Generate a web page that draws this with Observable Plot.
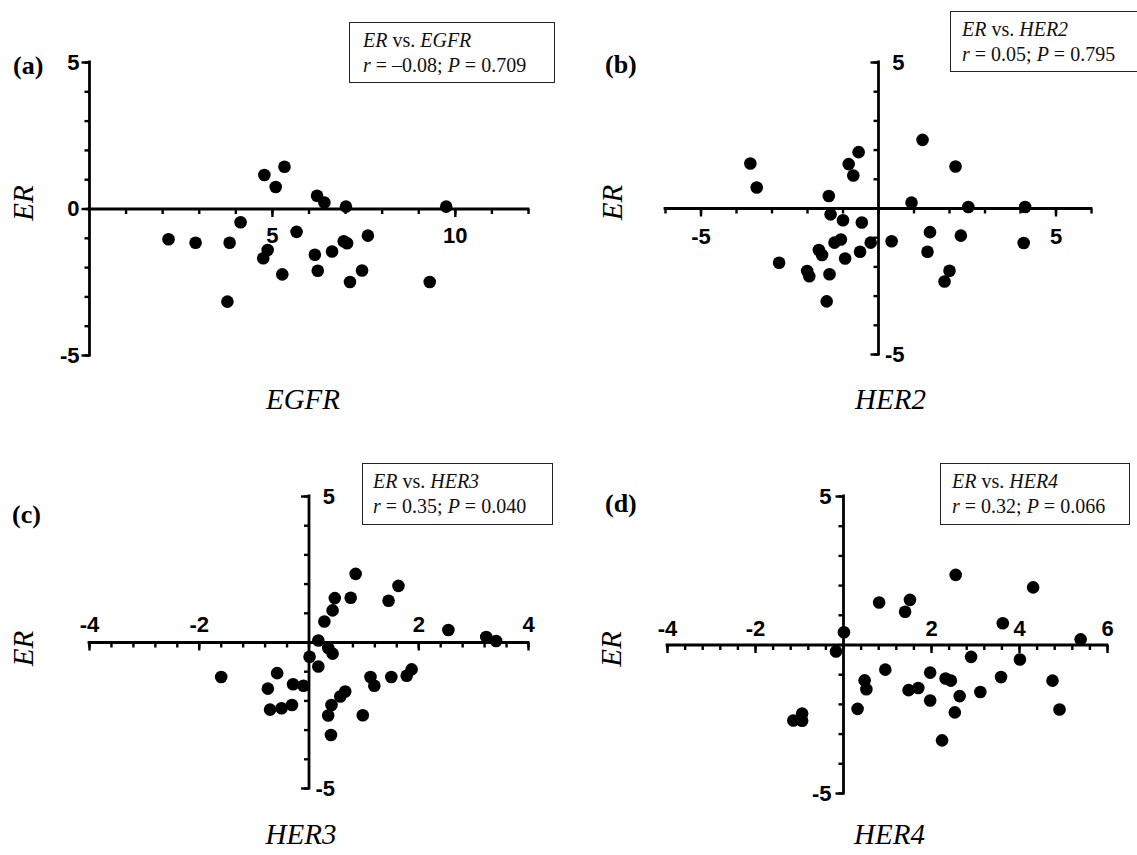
<!DOCTYPE html>
<html>
<head>
<meta charset="utf-8">
<script src="https://cdn.jsdelivr.net/npm/d3@7"></script>
<script src="https://cdn.jsdelivr.net/npm/@observablehq/plot@0.6"></script>
<style>
  html, body { margin: 0; padding: 0; background: #fff; }
  #root { position: relative; width: 1137px; height: 855px; overflow: hidden; background: #fff; }
  #root svg { position: absolute; overflow: visible; }
  .letter { position: absolute; font-family: "Liberation Serif", "Times New Roman", serif; font-weight: bold; font-size: 26px; line-height: 26px; color: #000; white-space: nowrap; }
  .stat { position: absolute; box-sizing: border-box; border: 1px solid #222; background: #fff; font-family: "Liberation Serif", "Times New Roman", serif; font-size: 20px; line-height: 25px; color: #111; white-space: nowrap; padding-top: 4.7px; }
</style>
</head>
<body>
<div id="root"></div>
<script>
// ---------------- data ----------------
const egfrX = [2.16, 2.90, 3.83, 4.13, 3.77, 4.78, 5.33, 5.09, 4.87, 4.75, 5.27, 5.66, 6.22, 6.42, 7.01, 6.16, 6.24, 6.63, 6.95, 7.04, 7.61, 7.12, 7.45, 9.75, 9.30];
const egfrER = [-1.03, -1.15, -1.15, -0.45, -3.16, 1.16, 1.44, 0.75, -1.40, -1.68, -2.23, -0.78, 0.45, 0.22, 0.08, -1.56, -2.11, -1.45, -1.10, -1.17, -0.91, -2.49, -2.10, 0.08, -2.49];

const her2X = [-3.61, -3.43, -2.80, -2.01, -1.95, -1.68, -1.59, -1.40, -1.35, -1.38, -1.46, -1.24, -1.06, -1.00, -0.94, -0.84, -0.71, -0.56, -0.47, -0.52, -0.22, 0.37, 0.93, 1.24, 1.45, 1.38, 2.17, 2.32, 2.53, 2.00, 1.86, 4.13, 4.09];
const her2ER = [1.54, 0.72, -1.86, -2.14, -2.32, -1.42, -1.59, 0.43, -0.20, -2.25, -3.18, -1.17, -1.06, -0.40, -1.71, 1.52, 1.13, 1.93, -0.48, -1.48, -1.17, -1.12, 0.20, 2.35, -0.81, -1.48, 1.44, -0.93, 0.05, -2.13, -2.50, 0.05, -1.18];

const her3X = [-1.60, -0.75, -0.58, -0.71, -0.50, -0.31, -0.29, -0.10, 0.01, 0.17, 0.17, 0.28, 0.35, 0.43, 0.43, 0.47, 0.76, 0.85, 0.41, 0.35, 0.40, 0.57, 0.66, 0.98, 1.12, 1.19, 1.50, 1.45, 1.63, 1.78, 1.87, 2.54, 3.23, 3.41];
const her3ER = [-1.18, -1.58, -1.05, -2.30, -2.25, -2.14, -1.43, -1.48, -0.49, 0.07, -0.82, 0.72, -0.19, -0.38, 1.10, 1.52, 1.53, 2.35, -2.14, -2.50, -3.17, -1.85, -1.68, -2.49, -1.18, -1.48, -1.18, 1.43, 1.94, -1.14, -0.92, 0.43, 0.19, 0.05];

const her4X = [-1.14, -0.94, -0.94, -0.17, 0.01, 0.32, 0.48, 0.52, 0.81, 0.95, 1.40, 1.51, 1.48, 1.70, 1.97, 1.97, 2.32, 2.44, 2.24, 2.53, 2.55, 2.64, 2.90, 3.11, 3.58, 3.62, 4.01, 4.31, 4.75, 4.91, 5.39];
const her4ER = [-2.54, -2.31, -2.55, -0.22, 0.43, -2.15, -1.19, -1.49, 1.43, -0.83, 1.12, 1.52, -1.52, -1.45, -0.93, -1.87, -1.13, -1.20, -3.21, -2.27, 2.36, -1.72, -0.40, -1.58, -1.08, 0.73, -0.49, 1.94, -1.20, -2.17, 0.19];

// axis labels
const aXLabels = [5, 10];
const aYLabels = [-5, 0, 5];
const bXLabels = [-5, 5];
const bYLabels = [-5, 5];
const cXLabels = [-4, -2, 2, 4];
const cYLabels = [-5, 5];
const dXLabels = [-4, -2, 2, 4, 6];
const dYLabels = [-5, 5];

const panelLetters = ["(a)", "(b)", "(c)", "(d)"];
const xTitles = ["EGFR", "HER2", "HER3", "HER4"];
const yTitle = "ER";
const statR = ["\u20130.08", "0.05", "0.35", "0.32"];
const statP = ["0.709", "0.795", "0.040", "0.066"];

// ---------------- tick symbols ----------------
const tickDown = { draw(ctx, size) { const r = Math.sqrt(size / Math.PI); ctx.moveTo(0, 0); ctx.lineTo(0, r); } };
const tickLeft = { draw(ctx, size) { const r = Math.sqrt(size / Math.PI); ctx.moveTo(0, 0); ctx.lineTo(-r, 0); } };

const SANS = "Liberation Sans, Arial, Helvetica, sans-serif";
const SERIF = "Liberation Serif, Times New Roman, serif";

function makePanel(cfg) {
  const pts = cfg.xs.map((x, i) => ({ x, y: cfg.ys[i] }));
  const axisStyle = { stroke: "#000", strokeWidth: 2.8, strokeLinecap: "square" };
  const tickStyle = { stroke: "#000", strokeWidth: 2.4, fill: "none" };
  const labStyle = { fontFamily: SANS, fontWeight: 700, fontSize: 22, fill: "#000" };
  const marks = [
    Plot.ruleY([0], axisStyle),
    Plot.ruleX([0], axisStyle),
    Plot.dot(cfg.xMinor, { x: d => d, y: 0, symbol: tickDown, r: 5, ...tickStyle }),
    Plot.dot(cfg.xLabels, { x: d => d, y: 0, symbol: tickDown, r: 8, ...tickStyle }),
    Plot.dot(cfg.yMinor, { x: 0, y: d => d, symbol: tickLeft, r: 5, ...tickStyle }),
    Plot.dot(cfg.yLabels, { x: 0, y: d => d, symbol: tickLeft, r: 8, ...tickStyle }),
    Plot.text(cfg.xLabels, { x: d => d, y: 0, text: d => String(d), dy: cfg.xLabDy, lineAnchor: "middle", textAnchor: "middle", ...labStyle }),
    Plot.text(cfg.yLabels, { x: 0, y: d => d, text: d => String(d), dx: cfg.yLabDx, lineAnchor: "middle", textAnchor: "end", ...labStyle }),
    Plot.text([cfg.xTitle], { frameAnchor: "bottom", dx: cfg.xTitleDx, dy: cfg.xTitleDy, lineAnchor: "bottom", textAnchor: "middle", fontFamily: SERIF, fontStyle: "italic", fontSize: 29, fill: "#000" }),
    Plot.text([yTitle], { frameAnchor: "left", rotate: -90, dx: cfg.yTitleDx, dy: cfg.yTitleDy, lineAnchor: "middle", textAnchor: "middle", fontFamily: SERIF, fontStyle: "italic", fontSize: 29, fill: "#000" }),
    Plot.dot(pts, { x: "x", y: "y", r: 6.3, fill: "#000", stroke: "none" })
  ];
  const svg = Plot.plot({
    width: cfg.width, height: cfg.height,
    marginLeft: cfg.m[0], marginRight: cfg.m[1], marginTop: cfg.m[2], marginBottom: cfg.m[3],
    x: { domain: cfg.xDomain, axis: null },
    y: { domain: [-5, 5], axis: null },
    style: { background: "transparent", overflow: "visible" },
    marks
  });
  svg.style.left = cfg.left + "px";
  svg.style.top = cfg.top + "px";
  return svg;
}

const root = document.getElementById("root");

const configs = [
  { left: 0, top: 0, width: 568, height: 430, m: [89, 40, 62, 75], xDomain: [0, 12],
    xs: egfrX, ys: egfrER, xMinor: d3.range(1, 13, 1), yMinor: d3.range(-5, 6, 1),
    xLabels: aXLabels, yLabels: aYLabels, xLabDy: 27, yLabDx: -10,
    xTitle: xTitles[0], xTitleDx: -6, xTitleDy: 53, yTitleDx: -66, yTitleDy: -6 },
  { left: 568, top: 0, width: 569, height: 430, m: [97, 46, 62, 76], xDomain: [-6, 6],
    xs: her2X, ys: her2ER, xMinor: d3.range(-6, 7, 1), yMinor: d3.range(-5, 6, 1),
    xLabels: bXLabels, yLabels: bYLabels, xLabDy: 28, yLabDx: 26,
    xTitle: xTitles[1], xTitleDx: 12, xTitleDy: 54, yTitleDx: -53, yTitleDy: -6 },
  { left: 0, top: 430, width: 568, height: 425, m: [89, 40, 66, 67], xDomain: [-4, 4],
    xs: her3X, ys: her3ER, xMinor: d3.range(-20, 21, 2).map(v => v / 5), yMinor: d3.range(-5, 6, 1),
    xLabels: cXLabels, yLabels: cYLabels, xLabDy: -18, yLabDx: 26,
    xTitle: xTitles[2], xTitleDx: -8, xTitleDy: 55, yTitleDx: -66, yTitleDy: 6 },
  { left: 568, top: 430, width: 569, height: 425, m: [99, 30, 66, 62], xDomain: [-4, 6],
    xs: her4X, ys: her4ER, xMinor: d3.range(-20, 31, 2).map(v => v / 5), yMinor: d3.range(-5, 6, 1),
    xLabels: dXLabels, yLabels: dYLabels, xLabDy: -16, yLabDx: -12,
    xTitle: xTitles[3], xTitleDx: 2, xTitleDy: 50, yTitleDx: -56, yTitleDy: 4 }
];

configs.forEach(cfg => root.appendChild(makePanel(cfg)));

// panel letters
const letterPos = [[13, 53], [605, 52], [12, 502], [605, 491]];
panelLetters.forEach((t, i) => {
  const el = document.createElement("div");
  el.className = "letter";
  el.textContent = t;
  el.style.left = letterPos[i][0] + "px";
  el.style.top = letterPos[i][1] + "px";
  root.appendChild(el);
});

// statistics boxes
const boxPos = [[349, 22, 206, 61, 13], [950, 11, 200, 61, 11], [362, 463, 191, 62, 10], [940, 463, 190, 62, 11]];
xTitles.forEach((g, i) => {
  const [l, t, w, h, pl] = boxPos[i];
  const el = document.createElement("div");
  el.className = "stat";
  el.style.left = l + "px";
  el.style.top = t + "px";
  el.style.width = w + "px";
  el.style.height = h + "px";
  el.style.paddingLeft = pl + "px";
  el.innerHTML = `<div><i>ER</i> vs. <i>${g}</i></div><div><i>r</i> = ${statR[i]}; <i>P</i> = ${statP[i]}</div>`;
  root.appendChild(el);
});
</script>
</body>
</html>
